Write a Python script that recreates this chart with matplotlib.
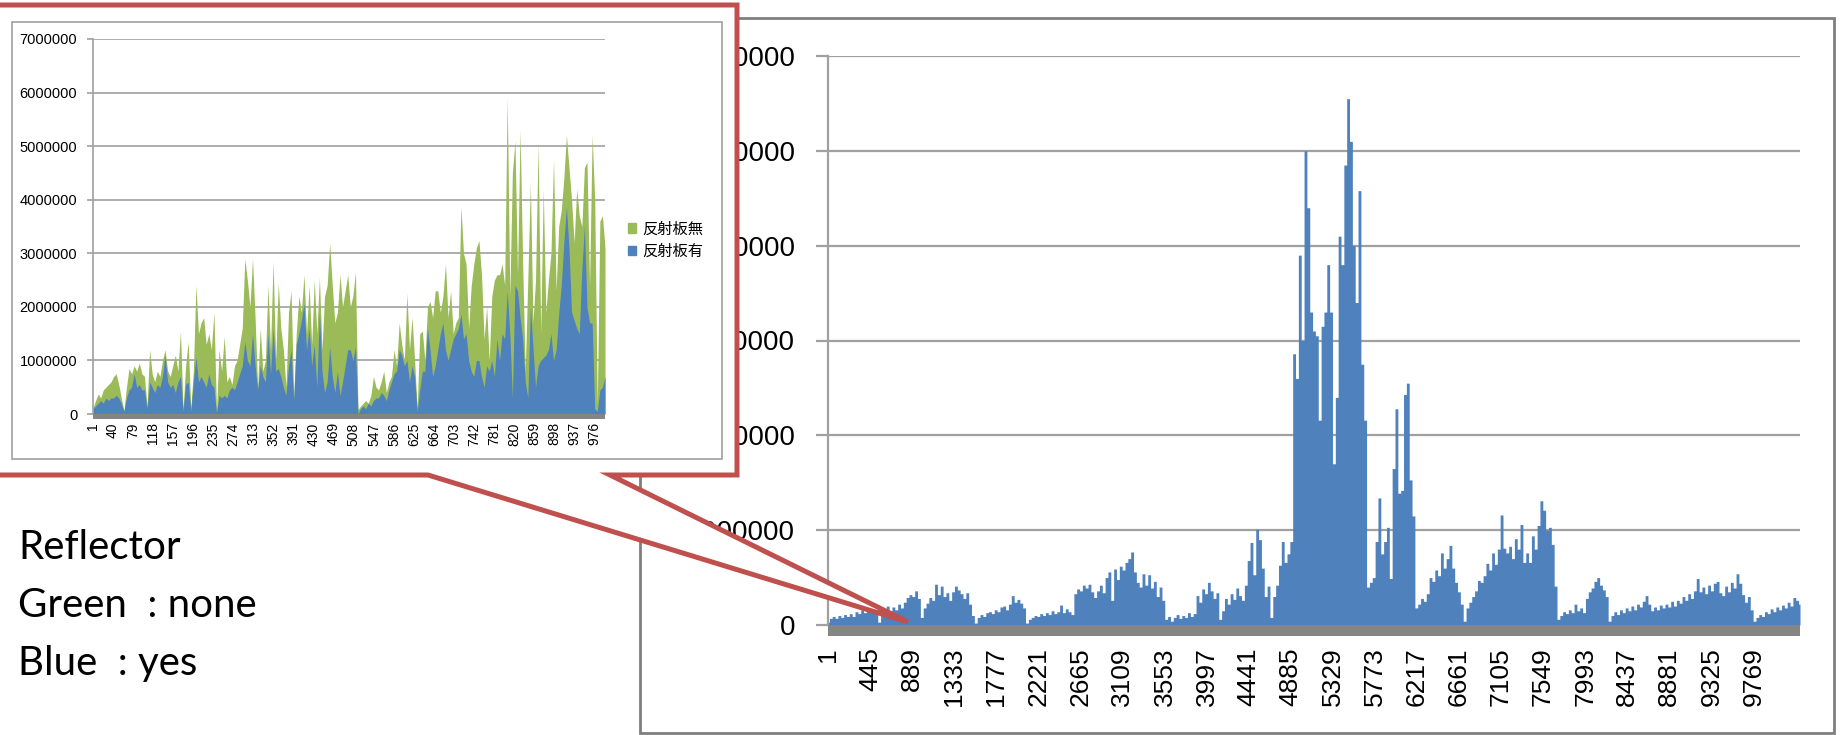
import numpy as np
import matplotlib
matplotlib.use("Agg")
import matplotlib.pyplot as plt
from matplotlib.patches import Polygon, Rectangle, Patch

W, H = 1841, 735

BLUE = "#4F81BD"
GREEN = "#9BBB59"
RED = "#C0504D"
GRID = "#A0A0A0"
FLOOR = "#858585"

# full run, one value every 30 samples (millions)
main_step = 30
main_vals = [
    0.3, 0.7, 0.9, 0.7, 1.0, 0.8, 1.1, 0.9, 1.2, 0.9,
    1.4, 1.2, 1.6, 1.3, 1.8, 1.4, 1.7, 1.5,
    0.3, 1.3, 1.6, 2.0, 1.5, 1.9, 1.6, 2.2, 1.8, 2.4,
    2.9, 3.2, 3.0, 3.6, 2.8, 0.8,
    1.8, 2.3, 2.9, 2.6, 4.3, 3.2, 4.1, 3.0, 3.4, 2.6, 3.5, 4.1, 3.7, 3.3, 2.8, 3.4,
    2.2, 1.0, 0.2, 0.8, 1.1, 0.9, 1.3, 1.4, 1.2, 1.6, 1.4, 1.9, 2.0, 1.6, 2.2, 3.1, 2.4, 2.7, 2.3, 1.8,
    0.2, 0.6, 0.8, 1.0, 0.9, 1.2, 1.0, 1.3, 1.1, 1.5, 1.2, 1.4, 2.1, 1.3, 1.7, 1.4, 1.1,
    3.3, 3.8, 3.6, 4.2, 3.9, 4.3, 3.5, 2.9, 3.6, 4.2, 3.4, 5.0, 5.6,
    2.6, 5.9, 4.8, 6.2, 5.8, 6.6, 7.0, 7.7, 5.6, 4.5, 4.0, 5.4, 4.2, 5.3, 3.9, 4.6, 3.0, 4.0, 2.6,
    0.6, 0.9, 0.4, 0.8, 1.1, 0.7, 1.0, 0.8, 1.3, 0.9, 1.2,
    3.1, 2.4, 3.8, 3.3, 4.5, 3.6, 2.8, 3.4, 0.6, 1.5, 2.8, 2.2, 3.3, 2.7, 3.9, 3.1, 2.6, 4.2,
    6.8, 8.7, 5.3, 10.1, 9.0, 6.0, 3.0, 4.1, 0.8, 3.0, 4.2, 6.3, 8.8, 6.6, 7.5, 8.8,
    28.6, 26.0, 39.0, 30.0, 50.0, 44.0, 33.0, 31.0, 30.5, 21.6, 31.5, 33.0, 38.0, 33.0,
    17.0, 24.0, 41.0, 38.0, 48.5, 55.5, 51.0, 40.0, 34.0, 45.8, 27.5, 21.6,
    4.0, 4.5, 5.0, 8.8, 13.4, 7.5, 8.8, 10.3, 4.9, 16.5, 22.8, 13.9, 14.2, 24.3, 25.5, 15.3, 11.5,
    1.8, 2.2, 2.8, 2.5, 3.3, 5.0, 4.6, 5.8, 5.2, 7.6, 6.0, 7.0, 8.4, 6.0, 4.5, 3.5, 2.2, 0.4,
    1.8, 2.4, 3.0, 3.6, 4.7,
    4.5, 5.2, 6.5, 5.8, 7.6, 6.4, 8.0, 11.6, 8.1, 7.6, 8.3, 7.0, 9.1, 8.0, 10.6, 6.6, 7.6, 6.6,
    9.4, 8.0, 10.5, 13.1, 12.1, 10.0, 10.3, 8.5, 4.1,
    0.6, 1.0, 1.4, 1.2, 1.6, 1.3, 2.2, 1.5, 1.8, 1.3, 2.8, 3.5, 3.9, 4.6, 5.0, 4.2, 3.7, 3.0,
    0.4, 1.0, 1.4, 1.1, 1.6, 1.3, 1.8, 1.5, 2.0, 1.6, 2.2, 1.9, 2.5, 3.1, 2.2,
    1.5, 1.9, 1.6, 2.1, 1.8, 2.2, 1.9, 2.5, 2.0, 2.6, 2.3, 3.0, 2.6, 3.3, 2.8, 3.6, 4.9, 3.5,
    4.0, 3.3, 4.2, 3.6, 4.4, 4.6, 3.4, 3.1, 4.1, 3.5, 4.5, 3.9, 5.4, 4.4, 3.2, 2.4, 3.0, 1.6,
    0.4, 0.8, 1.1, 0.9, 1.4, 1.2, 1.7, 1.4, 1.9, 1.6, 2.1, 1.8, 2.4, 2.0, 2.9, 2.6, 2.2,
]

# first 1000 samples, one value every 5 samples (millions)
inset_step = 5
green_vals = [  # 反射板無
    0.12, 0.25, 0.37, 0.3, 0.45, 0.5, 0.55, 0.6, 0.7, 0.75,
    0.55, 0.3, 0.06, 0.5, 0.85, 0.75, 0.9, 0.8, 0.95, 0.75,
    0.7, 0.15, 1.2, 0.75, 0.6, 0.8, 0.7, 1.0, 1.2, 0.8,
    0.7, 0.9, 1.1, 0.8, 1.55, 0.1, 0.9, 1.35, 0.1, 0.8,
    2.4, 1.5, 1.7, 1.8, 1.3, 1.5, 1.2, 1.9, 0.05, 1.2,
    0.8, 1.45, 0.6, 0.7, 0.55, 0.9, 1.0, 1.3, 1.6, 2.9,
    2.5, 2.0, 2.9, 1.8, 0.5, 1.6, 0.8, 1.0, 2.4, 1.2,
    2.85, 1.0, 2.45, 1.6, 1.2, 0.5, 1.9, 2.3, 0.3, 1.5,
    2.2, 1.9, 2.6, 1.5, 2.4, 1.3, 2.5, 1.5, 2.55, 1.2,
    2.2, 2.4, 3.18, 2.4, 1.7, 1.9, 2.6, 2.0, 2.3, 2.6,
    2.0, 2.2, 2.65, 0.08, 0.15, 0.2, 0.25, 0.2, 0.35, 0.7,
    0.5, 0.45, 0.6, 0.8, 0.4, 0.6, 0.7, 1.2, 0.9, 1.7,
    1.3, 1.0, 2.25, 1.2, 1.8, 1.0, 0.1, 1.5, 1.55, 1.0,
    2.0, 2.1, 1.8, 2.3, 2.3, 1.9, 2.2, 2.8, 1.8, 2.3,
    1.5, 1.7, 1.8, 3.87, 3.0, 2.8, 1.6, 2.4, 2.8, 3.1,
    3.24, 2.6, 1.4, 2.0, 1.0, 2.2, 2.5, 2.6, 2.6, 2.8,
    2.4, 5.9, 2.2, 4.5, 5.1, 2.6, 5.3, 2.8, 0.8, 2.5,
    4.3, 1.7, 2.5, 5.05, 1.5, 4.2, 1.9, 2.5, 3.0, 4.75,
    2.3, 3.5, 3.8, 4.4, 5.2, 4.6, 4.0, 3.2, 4.2, 3.7,
    3.5, 4.6, 4.7, 2.4, 5.2, 4.0, 0.15, 3.6, 3.7, 3.1,
]
blue_vals = [  # 反射板有
    0.1, 0.15, 0.2, 0.25, 0.2, 0.3, 0.25, 0.3, 0.3, 0.35,
    0.3, 0.2, 0.05, 0.3, 0.45, 0.5, 0.75, 0.5, 0.55, 0.45,
    0.45, 0.1, 0.6, 0.5, 0.4, 0.55, 0.5, 0.7, 1.1, 0.6,
    0.5, 0.55, 0.4, 0.6, 0.7, 0.06, 0.55, 0.6, 0.06, 0.6,
    1.06, 0.6, 0.7, 0.6, 0.5, 0.75, 0.55, 0.5, 0.02, 0.35,
    0.3, 0.35, 0.3, 0.45, 0.5, 0.45, 0.6, 0.75, 0.9, 1.35,
    1.0, 0.9, 1.5, 0.9, 0.45, 0.9, 0.7, 0.6, 1.5, 0.75,
    1.6, 0.8, 0.85, 0.7, 0.5, 0.35, 0.9, 1.2, 0.25, 1.3,
    1.5, 1.75, 2.06, 1.2, 1.6, 0.9, 1.3, 0.5, 1.9, 0.8,
    0.4, 0.6, 1.25, 0.7, 0.4, 0.8, 0.35, 0.6, 0.9, 1.2,
    1.2, 1.0, 1.25, 0.0, 0.1, 0.15, 0.1, 0.2, 0.15, 0.25,
    0.3, 0.3, 0.4, 0.35, 0.25, 0.45, 0.6, 0.75, 0.8, 1.2,
    1.1, 0.9, 1.0, 0.6, 0.9, 0.7, 0.05, 0.45, 0.8, 0.8,
    1.6, 1.2, 0.7, 0.9, 1.2, 1.5, 1.7, 1.2, 1.0, 1.2,
    1.4, 1.5, 1.6, 1.87, 1.4, 1.5, 1.0, 0.8, 0.7, 1.0,
    1.0, 0.7, 0.5, 0.9, 0.8, 1.0, 0.7, 1.4, 1.0, 1.5,
    1.4, 2.3, 1.5, 0.3, 2.4, 2.3, 1.8, 1.4, 0.6, 0.3,
    2.0, 1.25, 0.5, 0.9, 1.0, 1.05, 1.1, 1.2, 1.5, 1.0,
    1.2, 1.87, 2.4, 3.2, 3.87, 3.1, 1.9, 1.75, 1.6, 1.5,
    2.7, 3.5, 2.0, 1.7, 1.7, 0.1, 0.05, 0.45, 0.5, 0.7,
]

main_xticks = np.arange(1, 10000, 444)
inset_xticks = np.arange(1, 1000, 39)
main_yticks = np.arange(0, 60_000_001, 10_000_000)
inset_yticks = np.arange(0, 7_000_001, 1_000_000)

plt.rcParams["font.family"] = ["Liberation Sans", "DejaVu Sans"]


def box(l, t, r, b):
    # pixel box (from top-left) -> figure fraction rect
    return [l / W, 1 - b / H, (r - l) / W, (b - t) / H]


def fpx(x, y):
    return (x / W, 1 - y / H)


fig = plt.figure(figsize=(W / 100, H / 100), dpi=100)
fig.patch.set_facecolor("white")


def style_axes(ax, tick_len, ypad, xpad, yfs, xfs, grid_lw, floor_px, floor_h):
    ax.set_axisbelow(True)
    ax.yaxis.grid(True, color=GRID, lw=grid_lw)
    for s in ("top", "right", "bottom"):
        ax.spines[s].set_visible(False)
    ax.spines["left"].set_color(GRID)
    ax.spines["left"].set_linewidth(grid_lw)
    ax.tick_params(axis="y", length=tick_len, width=grid_lw, color=GRID,
                   pad=ypad, labelsize=yfs)
    ax.tick_params(axis="x", length=0, pad=xpad, labelsize=xfs, labelrotation=90)
    # thick grey floor under the zero line
    ax.add_patch(Rectangle((0, -floor_px / floor_h), 1, floor_px / floor_h,
                           transform=ax.transAxes, facecolor=FLOOR,
                           edgecolor="none", clip_on=False, zorder=3))


# ---- main chart (whole run, blue only)
ax = fig.add_axes(box(828, 56, 1800, 625))
x_main = 1 + main_step * np.arange(len(main_vals))
ax.fill_between(x_main, np.array(main_vals) * 1e6, step="mid",
                color=BLUE, lw=0, zorder=2)
ax.set_xlim(1, x_main[-1])
ax.set_ylim(0, 60_000_000)
ax.set_yticks(main_yticks)
ax.set_yticklabels([str(v) for v in main_yticks])
ax.set_xticks(main_xticks)
ax.set_xticklabels([str(v) for v in main_xticks], va="top")
style_axes(ax, 8.5, 15, 16, 20, 19, 1.6, 11, 569)

# outer frame of the main chart
fig.add_artist(Rectangle(fpx(640, 733), 1194 / W, 715 / H, transform=fig.transFigure,
                         facecolor="none", edgecolor="#7F7F7F", lw=2, zorder=1))

# red callout with pointer down to the start of the run
callout = Polygon([fpx(-10, 5), fpx(737, 5), fpx(737, 475), fpx(610, 475),
                   fpx(908, 622), fpx(428, 475), fpx(-10, 475)], closed=True,
                  transform=fig.transFigure, facecolor="white", edgecolor=RED,
                  lw=3.6, joinstyle="miter", zorder=2)
fig.add_artist(callout)

# frame of the zoomed chart
fig.add_artist(Rectangle(fpx(12, 459), 710 / W, 437 / H, transform=fig.transFigure,
                         facecolor="white", edgecolor=GRID, lw=1.2, zorder=3))

# ---- zoomed chart (first 1000 samples, both series)
ax2 = fig.add_axes(box(93, 39, 605, 414))
ax2.set_zorder(4)
ax2.patch.set_alpha(0)
x_in = 1 + inset_step * np.arange(len(green_vals))
ax2.fill_between(x_in, np.array(green_vals) * 1e6, color=GREEN, lw=0, zorder=2)
ax2.fill_between(x_in, np.array(blue_vals) * 1e6, color=BLUE, lw=0, zorder=2)
ax2.set_xlim(1, x_in[-1])
ax2.set_ylim(0, 7_000_000)
ax2.set_yticks(inset_yticks)
ax2.set_yticklabels([str(v) for v in inset_yticks])
ax2.set_xticks(inset_xticks)
ax2.set_xticklabels([str(v) for v in inset_xticks], va="top")
style_axes(ax2, 4.3, 7, 6, 10.5, 10, 1.2, 5, 375)

leg = ax2.legend(handles=[Patch(color=GREEN, label="反射板無"),
                          Patch(color=BLUE, label="反射板有")],
                 loc="center left", bbox_to_anchor=fpx(628, 240),
                 bbox_transform=fig.transFigure, frameon=False,
                 prop={"family": ["Noto Sans CJK JP"], "size": 11},
                 handlelength=0.55, handleheight=0.55, handletextpad=0.35,
                 labelspacing=0.35, borderpad=0, borderaxespad=0)

# ---- side note
note_font = ["Lato", "Noto Sans CJK JP", "DejaVu Sans"]
for txt, yb in [("Reflector", 559), ("Green  : none", 617), ("Blue  : yes", 675)]:
    fig.text(18 / W, 1 - yb / H, txt, fontsize=29, family=note_font,
             va="baseline", ha="left", color="black")

fig.savefig("out.png", dpi=100, facecolor="white")
